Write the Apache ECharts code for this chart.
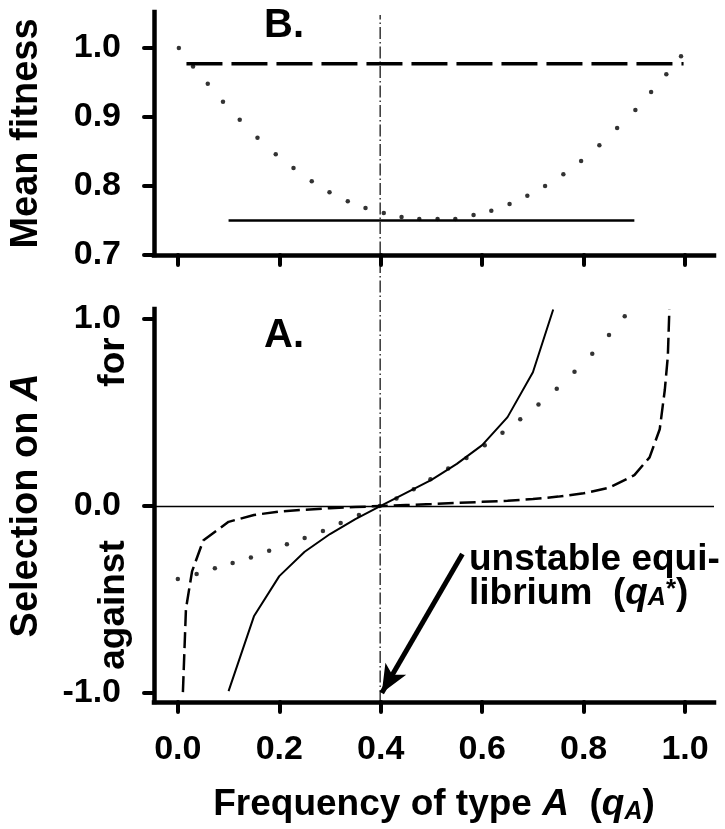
<!DOCTYPE html>
<html>
<head>
<meta charset="utf-8">
<script src="https://cdn.jsdelivr.net/npm/echarts@6/dist/echarts.min.js"></script>
<style>html,body{margin:0;padding:0;background:#fff;}#c{width:725px;height:829px;}</style>
</head>
<body>
<div id="c"></div>
<script>
// ---- data ----
const xTicks = [0, 0.2, 0.4, 0.6, 0.8, 1.0];
const fitTicks = [0.7, 0.8, 0.9, 1.0];
const selTicks = [-1.0, 0.0, 1.0];

// Panel B (mean fitness)
const fitDashQ = [0.017, 0.997];
const fitDashW = [0.977, 0.977];
const fitSolidQ = [0.10, 0.90];
const fitSolidW = [0.75, 0.75];
const fitDotQ = [0.002,0.030,0.059,0.089,0.122,0.157,0.193,0.228,0.264,0.299,0.335,0.370,0.406,0.441,0.476,0.512,0.547,0.583,0.618,0.654,0.689,0.724,0.760,0.795,0.831,0.866,0.902,0.933,0.963,0.992];
const fitDotW = [1.000,0.973,0.948,0.922,0.896,0.870,0.846,0.826,0.807,0.791,0.778,0.768,0.761,0.755,0.752,0.752,0.752,0.758,0.764,0.774,0.786,0.800,0.817,0.836,0.859,0.884,0.910,0.936,0.962,0.988];

// Panel A (selection on A)
const selSolidQ = [0.10,0.15,0.20,0.25,0.30,0.35,0.40,0.45,0.50,0.55,0.60,0.65,0.70,0.74];
const selSolidV = [-0.99,-0.59,-0.375,-0.245,-0.15,-0.07,0,0.07,0.14,0.225,0.325,0.475,0.715,1.05];
const selDashQ = [0.010,0.016,0.028,0.05,0.10,0.15,0.20,0.25,0.30,0.35,0.40,0.45,0.50,0.55,0.60,0.65,0.70,0.75,0.80,0.85,0.90,0.93,0.95,0.96,0.966,0.969];
const selDashV = [-0.995,-0.55,-0.35,-0.185,-0.085,-0.048,-0.03,-0.02,-0.012,-0.006,0,0.005,0.01,0.016,0.022,0.028,0.037,0.05,0.068,0.097,0.165,0.26,0.41,0.62,0.80,1.05];
const selDotQ = [0.000,0.037,0.073,0.108,0.144,0.180,0.215,0.250,0.286,0.321,0.357,0.398,0.431,0.465,0.498,0.533,0.569,0.605,0.640,0.675,0.711,0.747,0.782,0.817,0.850,0.881];
const selDotV = [-0.39,-0.364,-0.333,-0.305,-0.275,-0.239,-0.205,-0.171,-0.134,-0.091,-0.048,0.000,0.04,0.09,0.143,0.20,0.257,0.325,0.392,0.464,0.542,0.627,0.718,0.814,0.914,1.014];

const eqQ = [0.4, 0.4];
const eqY = [0, 1];
const arrowQ = [0.561, 0.402];
const arrowV = [-0.257, -1.0];

// ---- build chart ----
const zip = (a, b) => a.map((v, i) => [v, b[i]]);
const FONT = '"Liberation Sans", Arial, sans-serif';
const black = '#000';

const xBase = (gi, showLabels) => ({
  type: 'value', gridIndex: gi, min: -0.047, max: 1.057,
  splitLine: {show: false},
  axisLine: {show: true, onZero: false, lineStyle: {color: black, width: 4.5, cap: 'square'}},
  axisTick: {show: true, customValues: xTicks, length: 10, lineStyle: {color: black, width: 4, cap: 'round'}},
  axisLabel: {show: showLabels, customValues: xTicks, margin: 31, fontSize: 34, fontWeight: 'bold', fontFamily: FONT, color: black,
    formatter: v => v.toFixed(1)}
});
const yBase = (gi, mn, mx, ticks) => ({
  type: 'value', gridIndex: gi, min: mn, max: mx,
  splitLine: {show: false},
  axisLine: {show: true, onZero: false, lineStyle: {color: black, width: 4.5, cap: 'square'}},
  axisTick: {show: true, customValues: ticks, length: 10, lineStyle: {color: black, width: 4, cap: 'round'}},
  axisLabel: {show: true, customValues: ticks, margin: 33, fontSize: 34, fontWeight: 'bold', fontFamily: FONT, color: black,
    formatter: v => v.toFixed(1)},
  nameLocation: 'middle', nameRotate: 90, nameGap: 108,
  nameTextStyle: {fontSize: 38, fontWeight: 'bold', fontFamily: FONT, color: black,
    rich: {n: {fontSize: 38, fontWeight: 'bold', fontFamily: FONT, color: black},
           i: {fontSize: 38, fontWeight: 'bold', fontStyle: 'italic', fontFamily: FONT, color: black}}}
});

const x1 = xBase(1, true);
x1.name = '{n|Frequency of type }{i|A}{n|  (}{i|q}{s|A}{n|)}';
x1.nameLocation = 'middle';
x1.nameGap = 83;
x1.nameTextStyle = {
  rich: {
    n: {fontSize: 37, fontWeight: 'bold', fontFamily: FONT, color: black, lineHeight: 40, verticalAlign: 'middle'},
    i: {fontSize: 37, fontWeight: 'bold', fontStyle: 'italic', fontFamily: FONT, color: black, lineHeight: 40, verticalAlign: 'middle'},
    s: {fontSize: 25, fontWeight: 'bold', fontStyle: 'italic', fontFamily: FONT, color: black, lineHeight: 14, verticalAlign: 'bottom'}
  }
};

const y0 = yBase(0, 0.7, 1.052, fitTicks);
y0.name = 'Mean fitness';
const y1 = yBase(1, -1.048, 1.053, selTicks);
y1.name = '{n|Selection on }{i|A}';

const option = {
  backgroundColor: '#fff',
  animation: false,
  grid: [
    {left: 153, top: 12, width: 561, height: 243},
    {left: 153, top: 309, width: 561, height: 393},
    {left: 153, top: 15, width: 561, height: 687}
  ],
  xAxis: [xBase(0, false), x1,
    {type: 'value', gridIndex: 2, min: -0.047, max: 1.057, show: false}],
  yAxis: [y0, y1, {type: 'value', gridIndex: 2, min: 0, max: 1, show: false}],
  series: [
    {type: 'line', xAxisIndex: 0, yAxisIndex: 0, data: zip(fitDashQ, fitDashW), symbol: 'none',
      lineStyle: {color: black, width: 3.5, type: [36, 9]}},
    {type: 'line', xAxisIndex: 0, yAxisIndex: 0, data: zip(fitSolidQ, fitSolidW), symbol: 'none',
      lineStyle: {color: black, width: 2.5}},
    {type: 'scatter', xAxisIndex: 0, yAxisIndex: 0, data: zip(fitDotQ, fitDotW), symbol: 'circle', symbolSize: 4.5,
      itemStyle: {color: black}},
    {type: 'line', xAxisIndex: 1, yAxisIndex: 1, data: zip(selSolidQ, selSolidV), symbol: 'none',
      lineStyle: {color: black, width: 2},
      markLine: {silent: true, symbol: 'none', label: {show: false},
        data: [
          {yAxis: 0, lineStyle: {color: black, width: 1.3, type: 'solid'}},
          [{coord: [arrowQ[0], arrowV[0]], symbol: 'none'},
           {coord: [arrowQ[1], arrowV[1]], symbol: 'arrow', symbolSize: [18, 28]}]
        ],
        lineStyle: {color: black, width: 5, type: 'solid'}}},
    {type: 'line', xAxisIndex: 1, yAxisIndex: 1, data: zip(selDashQ, selDashV), symbol: 'none',
      lineStyle: {color: black, width: 2.5, type: [16, 6]}},
    {type: 'scatter', xAxisIndex: 1, yAxisIndex: 1, data: zip(selDotQ, selDotV), symbol: 'circle', symbolSize: 4.5,
      itemStyle: {color: black}},
    {type: 'line', xAxisIndex: 2, yAxisIndex: 2, data: zip(eqQ, eqY), symbol: 'none',
      lineStyle: {color: black, width: 1.2, type: [12, 3, 1.5, 3]}}
  ],
  graphic: [
    {type: 'text', left: 264, top: 6, style: {text: 'B.', font: 'bold 40px ' + FONT, fill: black}},
    {type: 'text', left: 264, top: 316, style: {text: 'A.', font: 'bold 40px ' + FONT, fill: black}},
    {type: 'text', x: 114, y: 362, rotation: Math.PI / 2,
      style: {text: 'for', font: 'bold 37px ' + FONT, fill: black, align: 'center', verticalAlign: 'middle'}},
    {type: 'text', x: 114, y: 605, rotation: Math.PI / 2,
      style: {text: 'against', font: 'bold 37px ' + FONT, fill: black, align: 'center', verticalAlign: 'middle'}},
    {type: 'text', x: 469, y: 543,
      style: {
        text: '{n|unstable equi-}\n{n|librium  (}{i|q}{s|A}{p|*}{n|)}',
        align: 'left', verticalAlign: 'top',
        rich: {
          n: {font: 'bold 37px ' + FONT, fill: black, lineHeight: 34, verticalAlign: 'middle'},
          i: {font: 'italic bold 37px ' + FONT, fill: black, lineHeight: 34, verticalAlign: 'middle'},
          s: {font: 'italic bold 25px ' + FONT, fill: black, lineHeight: 6, verticalAlign: 'bottom'},
          p: {font: 'bold 26px ' + FONT, fill: black, lineHeight: 12, verticalAlign: 'top'}
        }
      }}
  ]
};

const chart = echarts.init(document.getElementById('c'), null, {renderer: 'canvas'});
chart.setOption(option);
</script>
</body>
</html>
